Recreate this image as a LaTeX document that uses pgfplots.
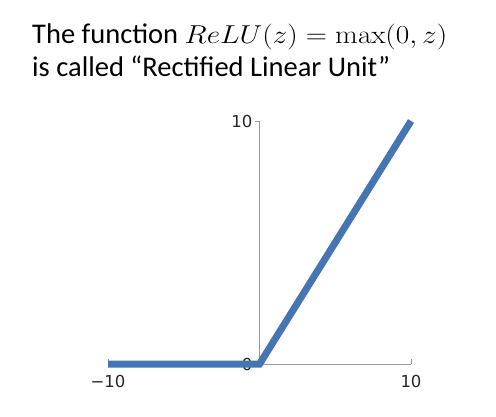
\documentclass[border=0pt]{standalone}
\usepackage{graphicx}
\usepackage{pgfplots}
\pgfplotsset{compat=1.18}
\usepackage[no-math]{fontspec}
\setmainfont{Carlito}
\newfontfamily\dv{DejaVu Sans}
\definecolor{relublue}{RGB}{70,118,178}
\begin{document}
\begin{tikzpicture}[x=1pt,y=1pt]
\useasboundingbox (0,0) rectangle (496,416);
\fill[white] (0,0) rectangle (496,416);
\node[anchor=base west, inner sep=0pt, font=\fontsize{28.5}{33}\selectfont] at (32,372) {The function \scalebox{1.18}[1.04]{$ReLU(z) = \max(0,z)$}};
\node[anchor=base west, inner sep=0pt, font=\fontsize{28.5}{33}\selectfont] at (32,339) {is called “Rectified Linear Unit”};
\begin{axis}[
  at={(108pt,52pt)}, anchor=south west,
  scale only axis, width=303pt, height=243pt,
  xmin=-10, xmax=10, ymin=0, ymax=10,
  axis lines=center,
  hide obscured x ticks=false, hide obscured y ticks=false,
  axis line style={-, draw=gray!80, line width=0.8pt},
  clip=false,
  xtick={-10,10}, xticklabels={−10,10},
  ytick={0,10}, yticklabels={0,10},
  tick style={draw=gray!80, line width=0.8pt},
  major tick length=5pt,
  xtick style={yshift=2.5pt},
  ytick style={xshift=-2.5pt},
  xticklabel style={font=\dv\fontsize{16.5}{19}\selectfont, text=black!85, yshift=-5pt},
  yticklabel style={font=\dv\fontsize{16.5}{19}\selectfont, text=black!85, xshift=-1pt},
]
\addplot[relublue, line width=7pt, line join=miter] coordinates {(-10,0) (0,0) (10,10)};
\end{axis}
\end{tikzpicture}
\end{document}
